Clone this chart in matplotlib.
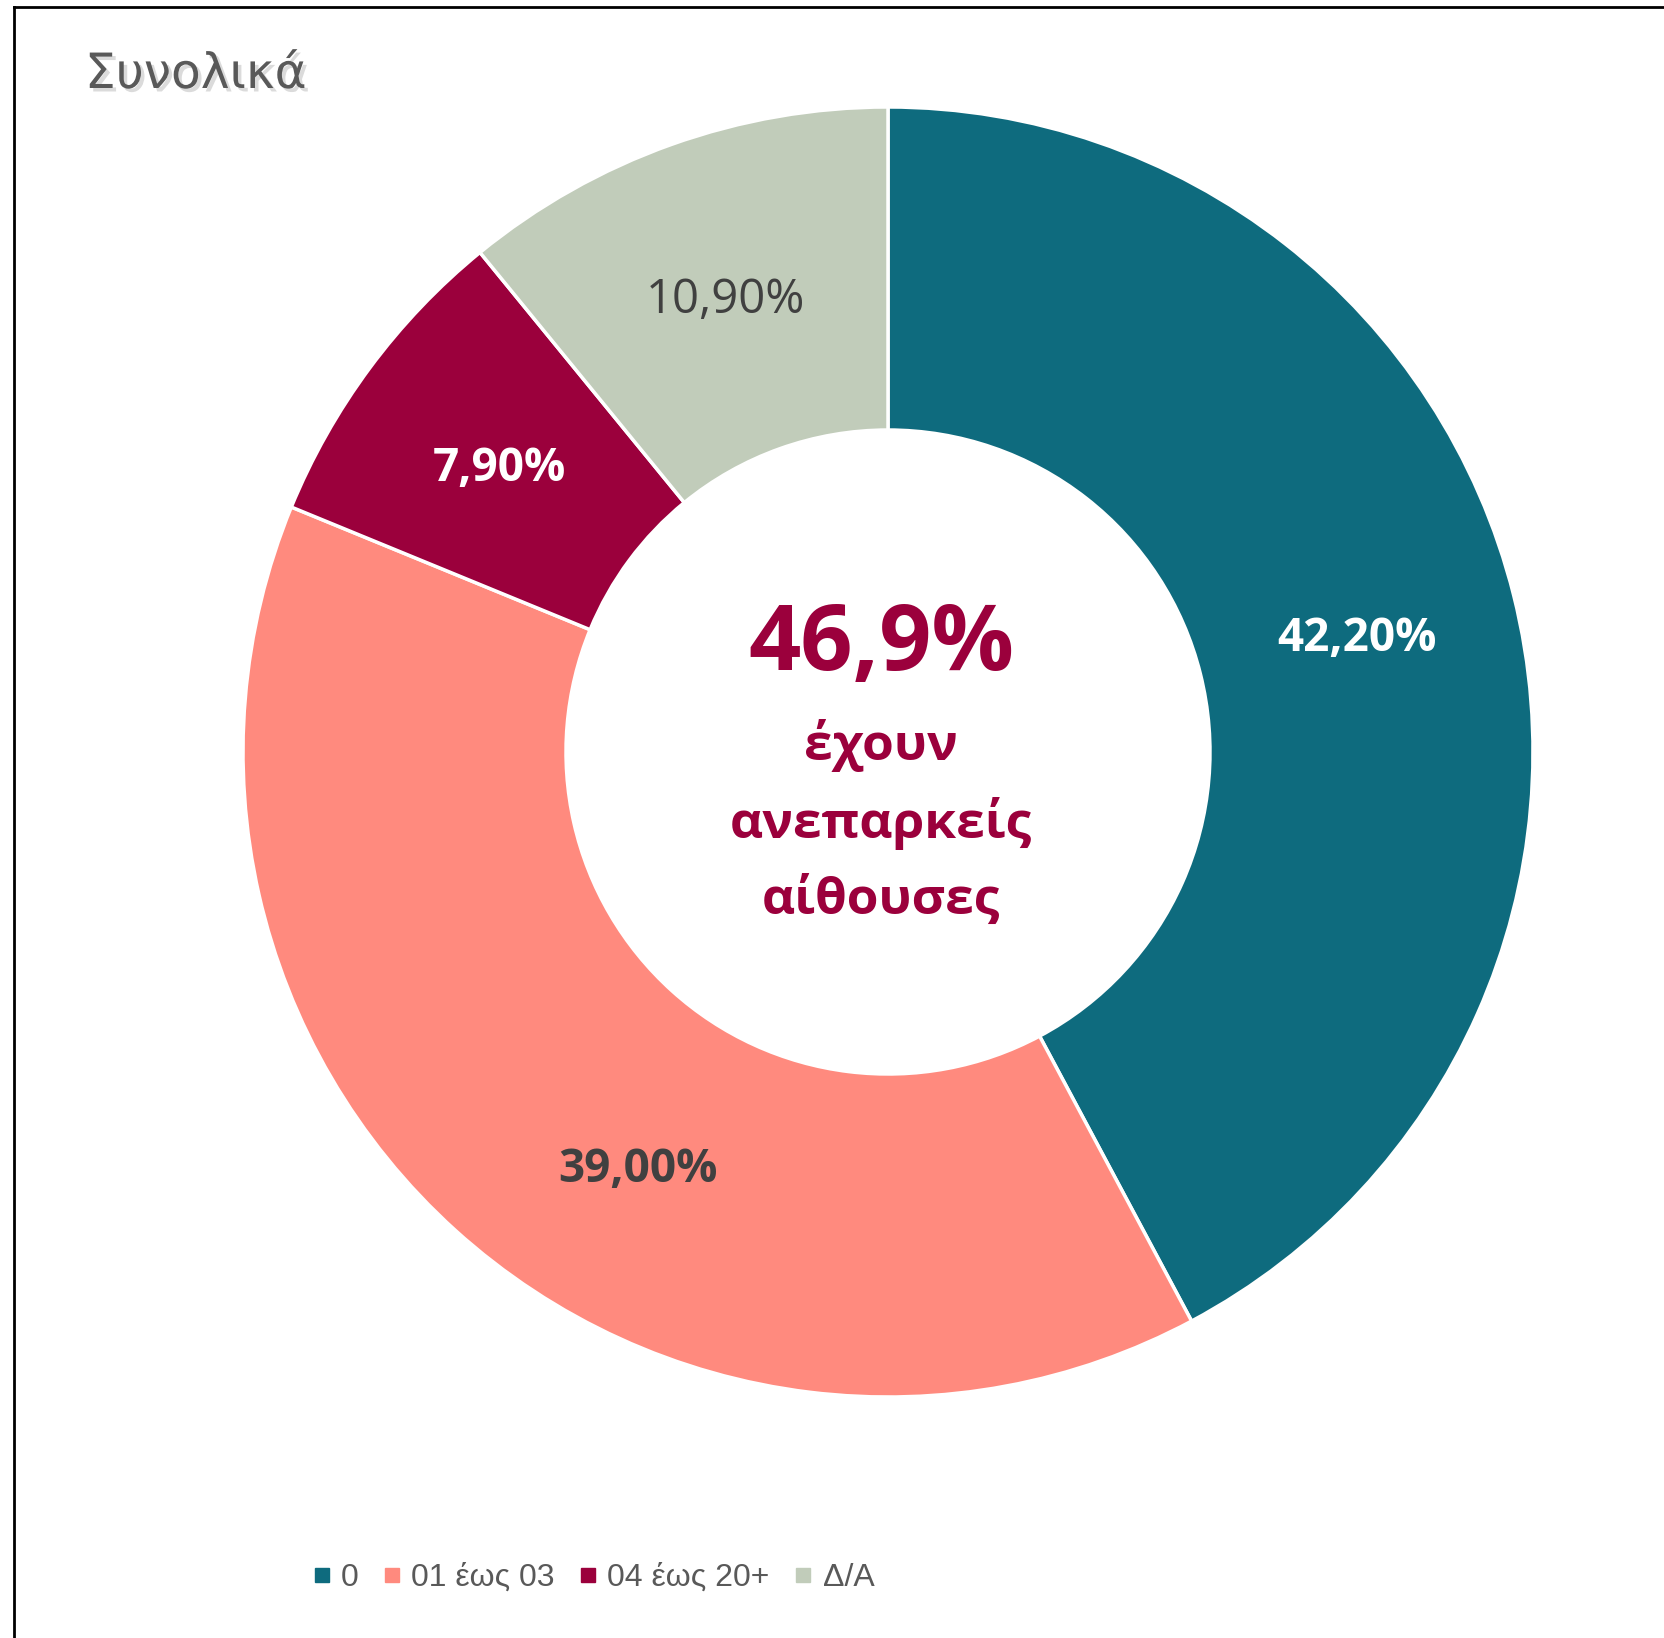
import matplotlib
matplotlib.use("Agg")
import numpy as np
import matplotlib.pyplot as plt
import matplotlib.patheffects as pe
from matplotlib.lines import Line2D

# data
categories = ["0", "01 έως 03", "04 έως 20+", "Δ/Α"]
values = [42.2, 39.0, 7.9, 10.9]
colors = ["#0E6B7E", "#FF8A7E", "#9B003C", "#C1CCBA"]
label_colors = ["white", "#404040", "white", "#404040"]
label_weights = ["bold", "bold", "bold", "normal"]
label_shift_deg = [0, 11, 0, 0]   # the 39% label was nudged along the ring
center_value = "46,9%"
center_lines = ["έχουν", "ανεπαρκείς", "αίθουσες"]
title = "Συνολικά"

W, H = 1664, 1638
fig = plt.figure(figsize=(W / 100, H / 100), dpi=100)
fig.patch.set_facecolor("white")

# donut geometry in pixels
cx, cy, R, r_in = 888, 752, 645, 322
pct_r = (1 + r_in / R) / 2
ax = fig.add_axes([(cx - R) / W, (H - cy - R) / H, 2 * R / W, 2 * R / H])
wedges, texts, autotexts = ax.pie(
    values, colors=colors, startangle=90, counterclock=False,
    radius=1.0, pctdistance=pct_r,
    autopct=lambda p: f"{p:.2f}%".replace(".", ","),
    wedgeprops=dict(width=1 - r_in / R, edgecolor="white", linewidth=2.5),
)
for w, t, c, wt, sh in zip(wedges, autotexts, label_colors, label_weights, label_shift_deg):
    t.set_color(c)
    t.set_fontweight(wt)
    t.set_fontsize(33 if wt == "bold" else 34)
    t.set_fontfamily(["Open Sans", "DejaVu Sans"])
    ang = np.deg2rad((w.theta1 + w.theta2) / 2 + sh)
    t.set_position((pct_r * np.cos(ang), pct_r * np.sin(ang) - 0.006))
ax.set_xlim(-1, 1)
ax.set_ylim(-1, 1)
ax.set_aspect("equal")
ax.axis("off")

# center text
crimson = "#9B003C"
tx = 881
fig.text(tx / W, 1 - 646 / H, center_value, ha="center", va="center",
         fontsize=66, fontweight="bold", color=crimson, family=["Open Sans", "DejaVu Sans"])
for i, line in enumerate(center_lines):
    fig.text(tx / W, 1 - (746 + 77 * i) / H, line, ha="center", va="center",
             fontsize=37, fontweight="bold", color=crimson, family=["Open Sans", "DejaVu Sans"])

# title with soft shadow
fig.text(85 / W, 1 - 88 / H, title, ha="left", va="baseline", fontsize=35,
         color="#595959", family=["DejaVu Sans"],
         path_effects=[pe.SimplePatchShadow(offset=(2.5, -2.5), shadow_rgbFace="#888888", alpha=0.3),
                       pe.Normal()])

# legend
handles = [Line2D([], [], marker="s", linestyle="none", markersize=10.5,
                  markerfacecolor=c, markeredgecolor=c) for c in colors]
fig.legend(handles, categories, loc="center", bbox_to_anchor=(594 / W, 1 - 1578 / H),
           ncol=4, frameon=False, handlelength=0.5, handletextpad=0.35, columnspacing=0.8,
           prop=dict(family=["Liberation Sans", "DejaVu Sans"], size=23),
           labelcolor="#595959")

# frame (left and top edges visible)
fig.add_artist(Line2D([14 / W, 14 / W], [0, 1 - 7 / H], transform=fig.transFigure,
                      color="black", linewidth=2))
fig.add_artist(Line2D([14 / W, 1], [1 - 7 / H, 1 - 7 / H], transform=fig.transFigure,
                      color="black", linewidth=2))

fig.savefig("out.png", dpi=100)
